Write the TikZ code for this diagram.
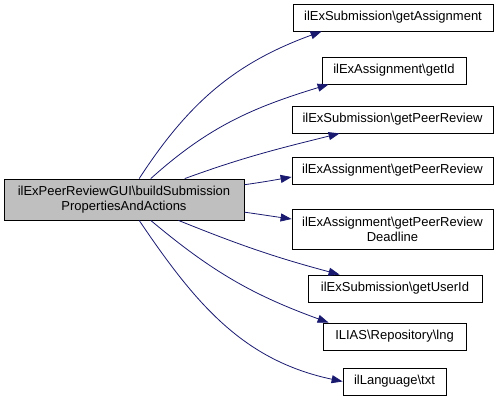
\documentclass[tikz,border=0pt]{standalone}
\usepackage{fontspec}
\setmainfont{Liberation Sans}
\usepackage{tikz}
\usetikzlibrary{arrows.meta}

\definecolor{nodegray}{HTML}{BFBFBF}
\definecolor{edgeblue}{HTML}{191970}

\begin{document}
\begin{tikzpicture}[x=1pt, y=-1pt,
    box/.style={draw=black, fill=white, line width=0.8pt, font=\fontsize{13}{15}\selectfont, align=center, inner sep=0pt, minimum height=27pt},
    mainbox/.style={box, fill=nodegray, minimum width=240pt, minimum height=41pt},
    call/.style={-{Triangle[length=11pt,width=8pt]}, line width=0.8pt, draw=edgeblue}
]
    \useasboundingbox (0,0) rectangle (504,408);

    % Caller
    \node[mainbox] (main) at (124,199.5) {ilExPeerReviewGUI\textbackslash buildSubmission\\PropertiesAndActions};

    % Callees
    \node[box, minimum width=200pt] (getass) at (393,17.5) {ilExSubmission\textbackslash getAssignment};
    \node[box, minimum width=144pt] (getid) at (394,70.5) {ilExAssignment\textbackslash getId};
    \node[box, minimum width=201pt] (subpeer) at (392.5,119.5) {ilExSubmission\textbackslash getPeerReview};
    \node[box, minimum width=201pt] (asspeer) at (392.5,170.5) {ilExAssignment\textbackslash getPeerReview};
    \node[box, minimum width=201pt, minimum height=40pt] (deadline) at (392.5,229) {ilExAssignment\textbackslash getPeerReview\\Deadline};
    \node[box, minimum width=174pt] (userid) at (395,288.5) {ilExSubmission\textbackslash getUserId};
    \node[box, minimum width=143pt] (lng) at (394.5,336.5) {ILIAS\textbackslash Repository\textbackslash lng};
    \node[box, minimum width=103pt] (txt) at (394.5,381.5) {ilLanguage\textbackslash txt};

    % Calls
    \draw[call] (main.54) to[out=57,in=200] ([xshift=29pt]getass.south west);
    \draw[call] (main.38) to[out=42,in=197] ([xshift=7pt]getid.south west);
    \draw[call] (main.19) to[out=20,in=194] ([xshift=48pt]subpeer.south west);
    \draw[call] (main.7) to[out=8,in=190] ([yshift=-6.5pt]asspeer.west);
    \draw[call] (main.-6) to[out=-8,in=172] ([yshift=10pt]deadline.west);
    \draw[call] (main.-21) to[out=-22,in=165] ([xshift=32pt]userid.north west);
    \draw[call] (main.-38) to[out=-40,in=160] ([xshift=6pt]lng.north west);
    \draw[call] (main.-54) to[out=-56,in=168] (txt.west);
\end{tikzpicture}
\end{document}
